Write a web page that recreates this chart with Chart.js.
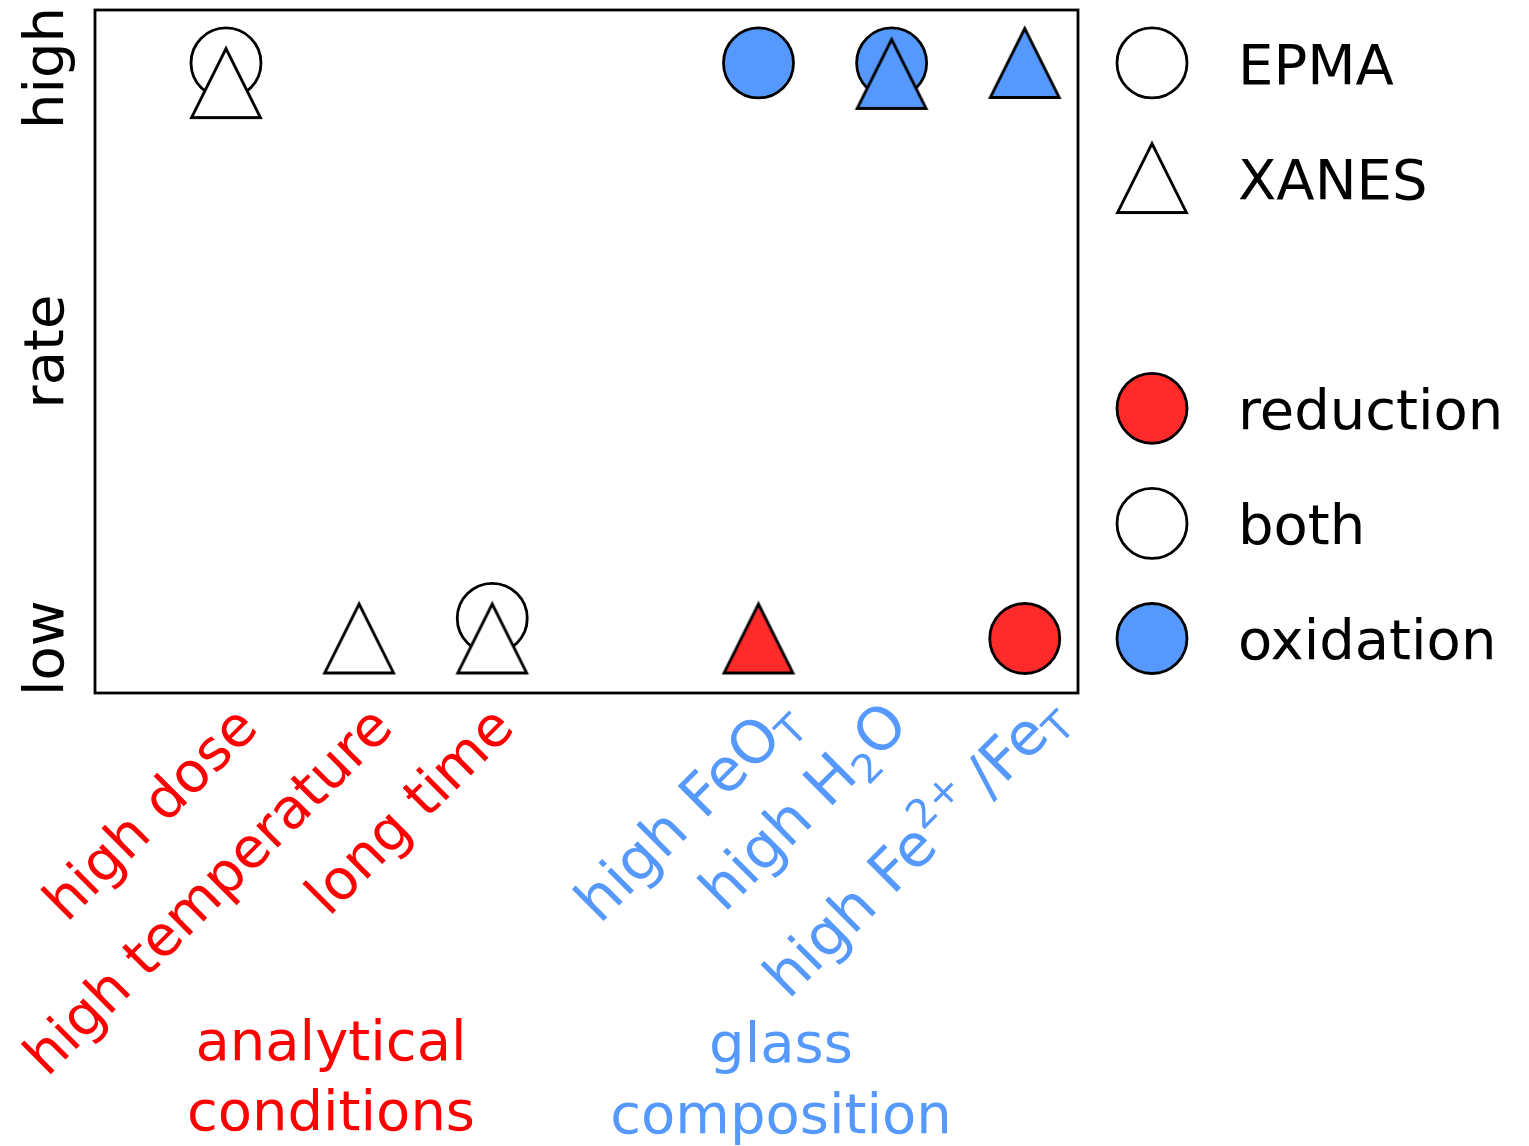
<!DOCTYPE html>
<html>
<head>
<meta charset="utf-8">
<script src="https://cdn.jsdelivr.net/npm/chart.js@4/dist/chart.umd.min.js"></script>
<style>
  html, body { margin: 0; padding: 0; background: #fff; }
  #wrap { width: 1529px; height: 1146px; }
</style>
</head>
<body>
<div id="wrap"><canvas id="chart" width="1529" height="1146"></canvas></div>
<script>
// ---- Data (rate 0 = low, 1 = high) ----
const categories = ["high dose", "high temperature", "long time",
  "high FeO_{T}", "high H_{2}O", "high Fe^{2+}\u2009/Fe_{T}"];
const categoryX = [1, 2, 3, 5, 6, 7];          // slot 4 is left empty between the groups
const categoryGroup = ["analytical", "analytical", "analytical", "glass", "glass", "glass"];
const epmaRate = [1, null, 0.035, 1, 1, 0];
const epmaEffect = ["both", null, "both", "oxidation", "oxidation", "reduction"];
const xanesRate = [0.965, 0, 0, 0, 0.981, 1];
const xanesEffect = ["both", "both", "both", "reduction", "oxidation", "oxidation"];
const rateLabels = ["low", "rate", "high"];
const groupTitles = [["analytical", "conditions"], ["glass", "composition"]];
const legendLabels = ["EPMA", "XANES", "reduction", "both", "oxidation"];
const legendMarkers = ["circle", "triangle", "circle", "circle", "circle"];
const legendEffects = ["both", "both", "reduction", "both", "oxidation"];

// ---- Styles / layout ----
const EFFECT_FILL = { reduction: "#ff2a2a", both: "#ffffff", oxidation: "#5599ff" };
const GROUP_COLOR = { analytical: "#ff0000", glass: "#5599ff" };
const GROUP_FS = { analytical: 56, glass: 59 };
const FONT = '"DejaVu Sans", Verdana, sans-serif';
const FS = 56;
const LW = 2.8;
const LABEL_END = [[34, 37], [36, 37], [24, 37], [43, 30], [19, 34], [44, 27]]; // per-label nudge from tick
const GROUP_CENTER_PX = [331, 781];
const LEGEND_ROWS = [1, 0.8, 0.4, 0.2, 0];  // legend rows sit on the rate scale
const LEGEND_X = 1152;

// ---- Marker images ----
function triangleImage(fill) {
  const c = document.createElement("canvas");
  c.width = 78; c.height = 76;
  const g = c.getContext("2d");
  g.beginPath();
  g.moveTo(39, 3.5); g.lineTo(73.5, 72.5); g.lineTo(4.5, 72.5); g.closePath();
  g.fillStyle = fill; g.fill();
  g.lineWidth = LW; g.strokeStyle = "#000"; g.lineJoin = "miter"; g.stroke();
  return c;
}
const TRI = Object.fromEntries(Object.keys(EFFECT_FILL).map(k => [k, triangleImage(EFFECT_FILL[k])]));

// ---- Rich text (sub/superscripts) ----
function parseRich(str) {
  const segs = [];
  const re = /(_|\^)\{([^}]*)\}/g;
  let last = 0, m;
  while ((m = re.exec(str))) {
    if (m.index > last) segs.push({ t: str.slice(last, m.index), k: "n" });
    segs.push({ t: m[2], k: m[1] === "_" ? "sub" : "sup" });
    last = re.lastIndex;
  }
  if (last < str.length) segs.push({ t: str.slice(last), k: "n" });
  return segs;
}
function segFont(k, fs) { return `${k === "n" ? fs : Math.round(fs * 0.68)}px ${FONT}`; }
function richWidth(ctx, segs, fs) {
  let w = 0;
  for (const s of segs) { ctx.font = segFont(s.k, fs); w += ctx.measureText(s.t).width; }
  return w;
}
function drawRich(ctx, segs, x, y, fs) {
  for (const s of segs) {
    ctx.font = segFont(s.k, fs);
    const dy = s.k === "sub" ? fs * 0.2 : s.k === "sup" ? -fs * 0.42 : 0;
    ctx.fillText(s.t, x, y + dy);
    x += ctx.measureText(s.t).width;
  }
}

// ---- Decorations plugin: frame, axis words, rotated category labels, legend ----
const decor = {
  id: "decor",
  beforeDatasetsDraw(chart) {
    const { ctx, chartArea: a } = chart;
    ctx.save();
    ctx.lineWidth = LW; ctx.strokeStyle = "#000";
    ctx.strokeRect(a.left, a.top, a.right - a.left, a.bottom - a.top);
    ctx.restore();
  },
  afterDraw(chart) {
    const { ctx, chartArea: a } = chart;
    const xs = chart.scales.x, ys = chart.scales.y;
    ctx.save();
    ctx.fillStyle = "#000";
    ctx.textBaseline = "alphabetic";
    ctx.font = `${FS}px ${FONT}`;

    // rate axis words
    const word = (txt, y, align) => {
      ctx.save(); ctx.translate(63, y); ctx.rotate(-Math.PI / 2);
      ctx.textAlign = align; ctx.fillText(txt, 0, 0); ctx.restore();
    };
    word(rateLabels[0], a.bottom + 3, "left");
    word(rateLabels[1], (a.top + a.bottom) / 2, "center");
    word(rateLabels[2], a.top - 3, "right");

    // category labels, rotated 45 degrees, ending just below the axis
    categories.forEach((lab, i) => {
      const grp = categoryGroup[i];
      const fs = GROUP_FS[grp];
      const segs = parseRich(lab);
      const w = richWidth(ctx, segs, fs);
      ctx.save();
      ctx.translate(xs.getPixelForValue(categoryX[i]) + LABEL_END[i][0], a.bottom + LABEL_END[i][1]);
      ctx.rotate(-Math.PI / 4);
      ctx.textAlign = "left";
      ctx.fillStyle = GROUP_COLOR[grp];
      drawRich(ctx, segs, -w, 0, fs);
      ctx.restore();
    });

    // group titles
    ctx.font = `${FS}px ${FONT}`;
    ctx.textAlign = "center";
    groupTitles.forEach((lines, g) => {
      ctx.fillStyle = g === 0 ? GROUP_COLOR.analytical : GROUP_COLOR.glass;
      ctx.fillText(lines[0], GROUP_CENTER_PX[g], 1060 + g * 2);
      ctx.fillText(lines[1], GROUP_CENTER_PX[g], 1130 + g * 3);
    });

    // legend
    ctx.textAlign = "left";
    legendLabels.forEach((lab, i) => {
      const y = ys.getPixelForValue(LEGEND_ROWS[i]);
      if (legendMarkers[i] === "circle") {
        ctx.beginPath(); ctx.arc(LEGEND_X, y, 35, 0, Math.PI * 2);
        ctx.fillStyle = EFFECT_FILL[legendEffects[i]]; ctx.fill();
        ctx.lineWidth = LW; ctx.strokeStyle = "#000"; ctx.stroke();
      } else {
        const img = TRI[legendEffects[i]];
        ctx.drawImage(img, LEGEND_X - img.width / 2, y - img.height / 2);
      }
      ctx.fillStyle = "#000";
      ctx.font = `${FS}px ${FONT}`;
      ctx.fillText(lab, 1238, y + 21);
    });
    ctx.restore();
  },
};

// ---- Chart ----
const epmaIdx = categoryX.map((_, i) => i).filter(i => epmaRate[i] !== null);

new Chart(document.getElementById("chart"), {
  type: "scatter",
  data: {
    datasets: [
      {
        label: "XANES",
        data: categoryX.map((x, i) => ({ x, y: xanesRate[i] })),
        pointStyle: xanesEffect.map(e => TRI[e]),
        order: 0,
        clip: false,
      },
      {
        label: "EPMA",
        data: epmaIdx.map(i => ({ x: categoryX[i], y: epmaRate[i] })),
        pointStyle: "circle",
        pointRadius: 35,
        pointBorderWidth: LW,
        pointBorderColor: "#000",
        pointBackgroundColor: epmaIdx.map(i => EFFECT_FILL[epmaEffect[i]]),
        order: 1,
        clip: false,
      },
    ],
  },
  options: {
    responsive: false,
    devicePixelRatio: 1,
    animation: false,
    events: [],
    layout: { autoPadding: false, padding: { left: 95, top: 10, right: 451, bottom: 453 } },
    scales: {
      x: { type: "linear", min: 0.016, max: 7.4, display: false },
      y: { type: "linear", min: -0.0947, max: 1.092, display: false },
    },
    plugins: { legend: { display: false }, tooltip: { enabled: false } },
  },
  plugins: [decor],
});
</script>
</body>
</html>
